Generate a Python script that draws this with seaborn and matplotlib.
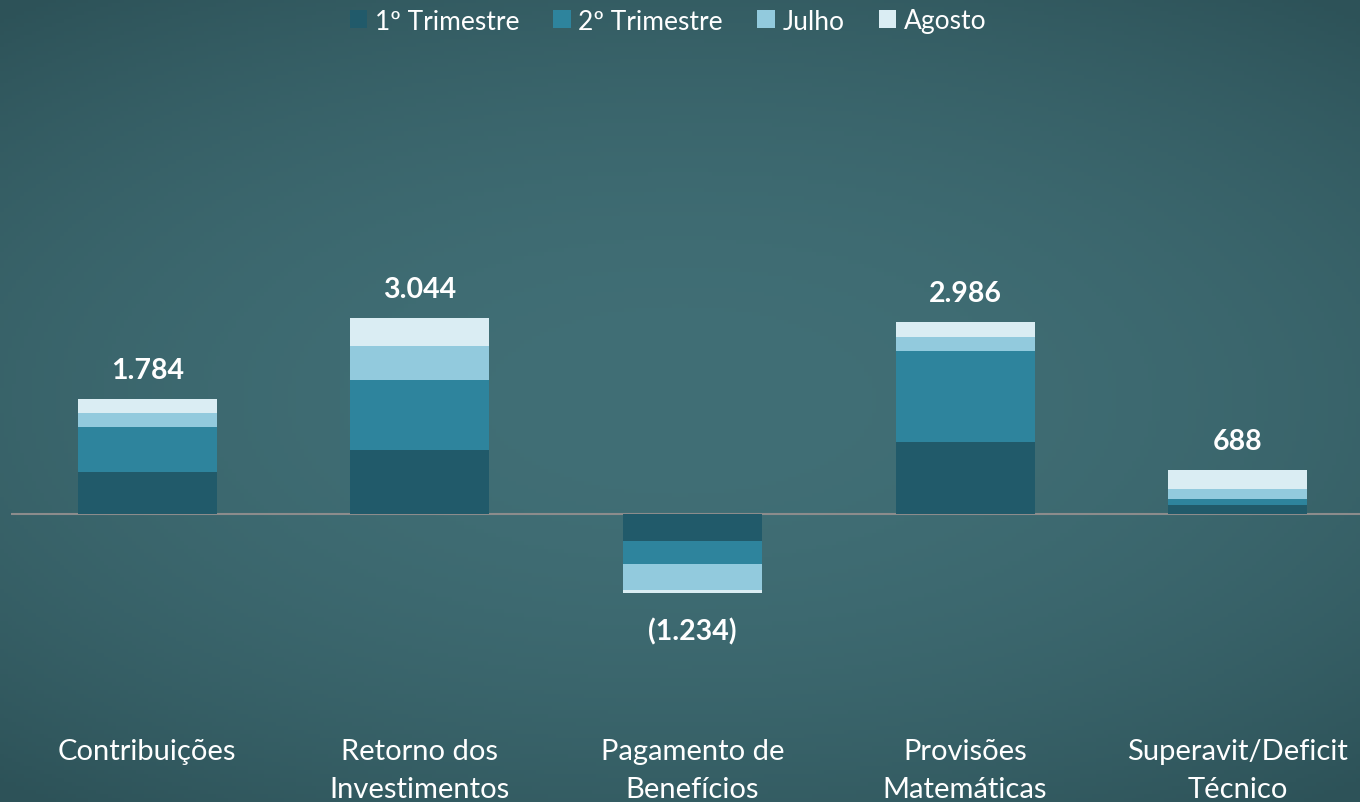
import seaborn as sns
import matplotlib.pyplot as plt
import numpy as np
import pandas as pd

# dados do gráfico
categorias = ["Contribuições", "Retorno dos\nInvestimentos", "Pagamento de\nBenefícios",
              "Provisões\nMatemáticas", "Superavit/Deficit\nTécnico"]
series = ["1º Trimestre", "2º Trimestre", "Julho", "Agosto"]
tri1 = [657, 999, -425, 1127, 137]
tri2 = [689, 1087, -350, 1400, 91]
julho = [219, 528, -405, 218, 153]
agosto = [219, 430, -54, 241, 307]
totais = [1784, 3044, -1234, 2986, 688]

cores = ["#215a6a", "#2e849d", "#92cadd", "#daedf3"]

sns.set_theme(style="white")
plt.rcParams['font.family'] = ['Lato', 'DejaVu Sans']

fig = plt.figure(figsize=(13.6, 8.03), dpi=100)

# fundo estilo quadro-negro (gradiente radial)
bg = fig.add_axes([0, 0, 1, 1], zorder=0)
yy, xx = np.mgrid[-1:1:200j, -1:1:340j]
r = np.sqrt((xx * 0.9) ** 2 + (yy * 1.1) ** 2)
centro = np.array([0x41, 0x6f, 0x76]) / 255
borda = np.array([0x2d, 0x52, 0x58]) / 255
t = np.clip(r / 1.4, 0, 1)[..., None] ** 2
img = centro * (1 - t) + borda * t
bg.imshow(img, aspect="auto", extent=[0, 1, 0, 1])
bg.axis("off")

ax = fig.add_axes([11 / 1360, 72 / 803, 1363 / 1360, 680 / 803], zorder=1)
ax.patch.set_alpha(0)

df = pd.DataFrame({"categoria": categorias, "1º Trimestre": tri1, "2º Trimestre": tri2,
                   "Julho": julho, "Agosto": agosto})

base = np.zeros(len(categorias))
for s, c in zip(series, cores):
    sns.barplot(data=df, x="categoria", y=s, bottom=base, color=c, width=0.51,
                saturation=1, edgecolor="none", linewidth=0, label=s, ax=ax)
    base = base + df[s].values

ax.axhline(0, color="#8c8c8c", lw=1.5, zorder=0.5)

for i, tot in enumerate(totais):
    if tot >= 0:
        txt = f"{tot:,}".replace(",", ".")
        ax.annotate(txt, (i, tot), xytext=(0, 21), textcoords="offset points",
                    ha="center", va="center", color="white", fontsize=20.5, fontweight="bold")
    else:
        txt = "(" + f"{-tot:,}".replace(",", ".") + ")"
        ax.annotate(txt, (i, tot), xytext=(0, -27), textcoords="offset points",
                    ha="center", va="center", color="white", fontsize=20.5, fontweight="bold")

ax.set_xlim(-0.5, 4.5)
ax.set_ylim(-3359, 7215)
ax.set_xlabel("")
ax.set_ylabel("")
ax.set_yticks([])
ax.set_xticks(range(len(categorias)))
ax.set_xticklabels(categorias, color="white", fontsize=21)
for lbl in ax.get_xticklabels():
    lbl.set_linespacing(1.55)
ax.tick_params(axis="x", length=0, pad=6)
for sp in ax.spines.values():
    sp.set_visible(False)

handles, labels = ax.get_legend_handles_labels()
if ax.legend_:
    ax.legend_.remove()
fig.legend(handles, labels, loc="center", bbox_to_anchor=(668 / 1360, 1 - 22 / 803), ncol=4,
           frameon=False, fontsize=19, labelcolor="white", handlelength=0.65,
           handleheight=0.65, handletextpad=0.3, columnspacing=1.3)

fig.savefig("out.png", dpi=100)
